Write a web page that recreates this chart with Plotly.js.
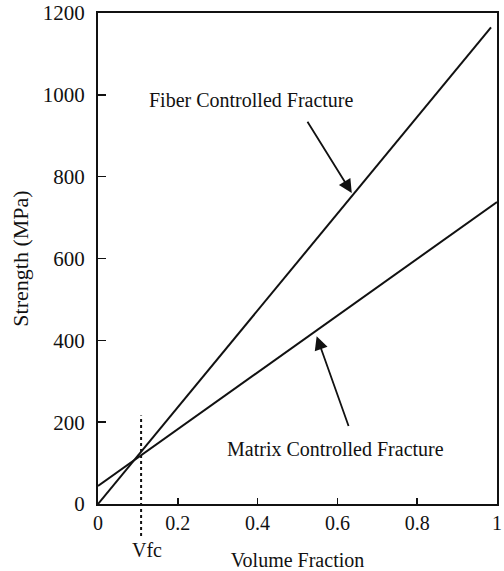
<!DOCTYPE html>
<html>
<head>
<meta charset="utf-8">
<script src="https://cdn.plot.ly/plotly-3.0.1.min.js"></script>
<style>html,body{margin:0;padding:0;background:#fff;}#chart{width:504px;height:571px;}</style>
</head>
<body>
<div id="chart"></div>
<script>
// Data
var fiberX = [0, 0.985];
var fiberY = [0, 1165];
var matrixX = [0, 1];
var matrixY = [44, 738];
var vfc = 0.108;
var xTicks = [0, 0.2, 0.4, 0.6, 0.8, 1];
var xTickText = ['0', '0.2', '0.4', '0.6', '0.8', '1'];
var yTicks = [0, 200, 400, 600, 800, 1000, 1200];
var yTickText = ['0', '200', '400', '600', '800', '1000', '1200'];

var serif = 'Liberation Serif, Times New Roman, serif';
var ink = '#111';

var traces = [
  {x: fiberX, y: fiberY, mode: 'lines', line: {color: ink, width: 2}, hoverinfo: 'skip'},
  {x: matrixX, y: matrixY, mode: 'lines', line: {color: ink, width: 2}, hoverinfo: 'skip'}
];

var layout = {
  width: 504, height: 571,
  margin: {l: 98, r: 7, t: 13, b: 67},
  showlegend: false,
  paper_bgcolor: '#fff', plot_bgcolor: '#fff',
  font: {family: serif, color: ink, size: 20},
  xaxis: {
    range: [0, 1], tickvals: xTicks, ticktext: xTickText,
    ticks: 'inside', ticklen: 6, tickwidth: 1.5, tickcolor: ink,
    showline: true, linecolor: ink, linewidth: 2, mirror: true,
    showgrid: false, zeroline: false,
    tickfont: {family: serif, size: 20, color: ink},
    title: {text: 'Volume Fraction', font: {family: serif, size: 20, color: ink}, standoff: 20}
  },
  yaxis: {
    range: [0, 1200], tickvals: yTicks, ticktext: yTickText,
    ticks: 'inside', ticklen: 8, tickwidth: 1.5, tickcolor: ink,
    showline: true, linecolor: ink, linewidth: 2, mirror: true,
    showgrid: false, zeroline: false, ticklabelstandoff: 7,
    tickfont: {family: serif, size: 21, color: ink},
    title: {text: 'Strength (MPa)', font: {family: serif, size: 22, color: ink}, standoff: 8}
  },
  shapes: [
    {type: 'line', xref: 'x', yref: 'paper', x0: vfc, x1: vfc, y0: -0.065, y1: 0.18,
     line: {color: ink, width: 2, dash: 'dot'}}
  ],
  annotations: [
    {x: 0.385, y: 988, xref: 'x', yref: 'y', text: 'Fiber Controlled Fracture', showarrow: false,
     font: {family: serif, size: 20, color: ink}},
    {x: 0.636, y: 760, xref: 'x', yref: 'y', ax: 0.515, ay: 950, axref: 'x', ayref: 'y',
     text: ' ', showarrow: true, arrowhead: 2, arrowsize: 1.5, arrowwidth: 1.8, arrowcolor: ink},
    {x: 0.595, y: 134, xref: 'x', yref: 'y', text: 'Matrix Controlled Fracture', showarrow: false,
     font: {family: serif, size: 20, color: ink}},
    {x: 0.548, y: 410, xref: 'x', yref: 'y', ax: 0.638, ay: 163, axref: 'x', ayref: 'y',
     text: ' ', showarrow: true, arrowhead: 2, arrowsize: 1.5, arrowwidth: 1.8, arrowcolor: ink},
    {x: vfc, y: -0.068, xref: 'x', yref: 'paper', text: 'Vfc', showarrow: false, xshift: 6,
     font: {family: serif, size: 20, color: ink}, yanchor: 'top'}
  ]
};

Plotly.newPlot('chart', traces, layout, {staticPlot: true, displayModeBar: false});
</script>
</body>
</html>
